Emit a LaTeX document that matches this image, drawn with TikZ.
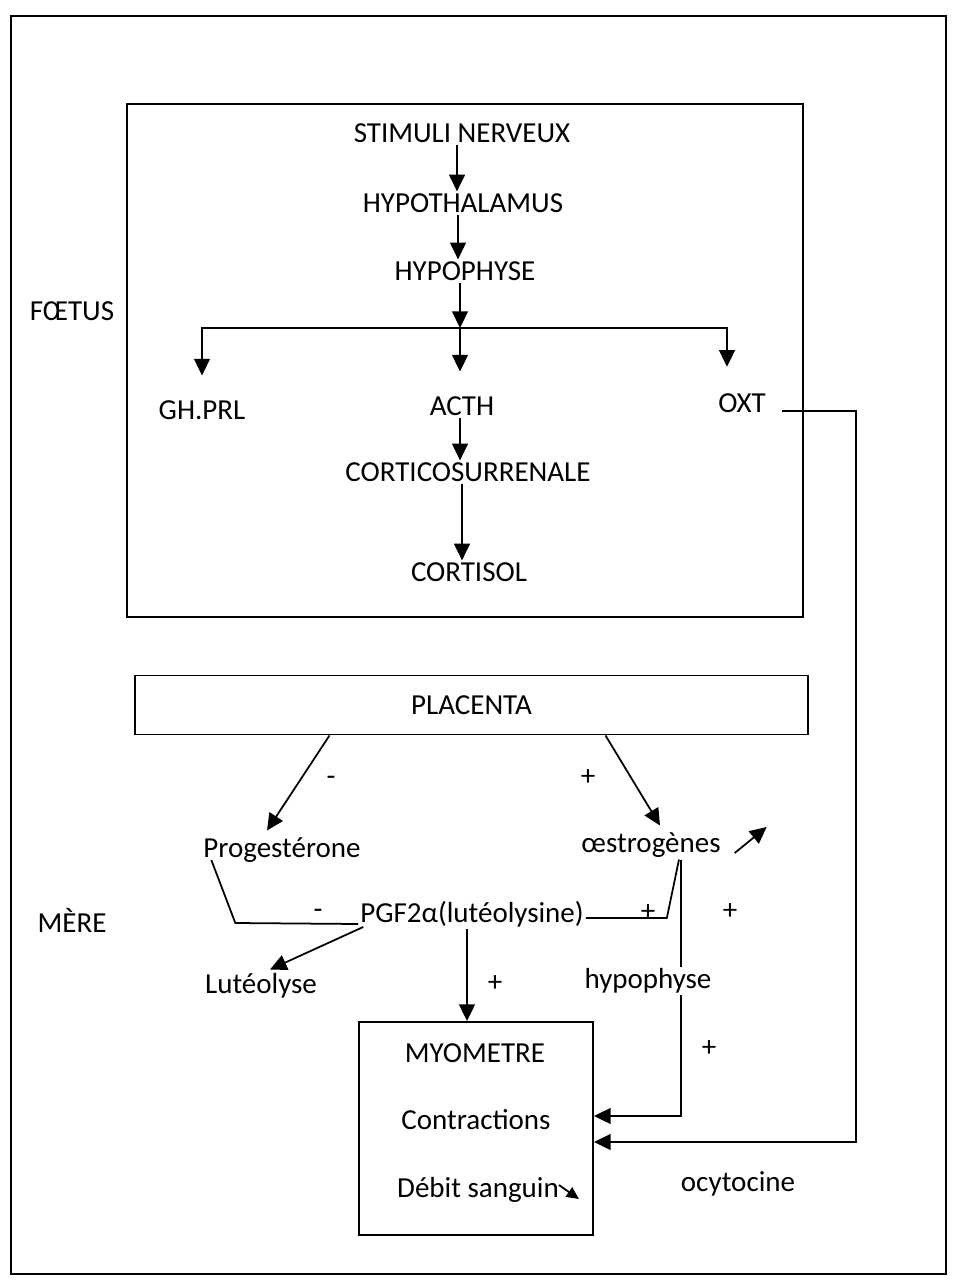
\documentclass[tikz,border=0pt]{standalone}
\usepackage{fontspec}
\setmainfont{Carlito}
\usetikzlibrary{arrows.meta,calc}

\begin{document}
\begin{tikzpicture}[
  x=0.02cm, y=-0.02cm,
  font=\fontsize{16.5}{19}\selectfont,
  lbl/.style={inner sep=1pt},
  sgn/.style={inner sep=0pt},
  frame/.style={draw=black, line width=1.1pt},
  boxed/.style={rectangle, draw=black, line width=1.1pt, inner sep=0pt},
  arr/.style={-{Triangle[length=9.5pt,width=9pt]}, line width=1pt},
  small arr/.style={-{Triangle[length=7pt,width=6.5pt]}, line width=1pt},
  link/.style={line width=1pt}
]
\useasboundingbox (0,0) rectangle (954,1283);
\draw[frame] (11,16) rectangle (946,1274);
\draw[frame] (127,104) rectangle (803,617);

\node[lbl] (foetus) at (72,311) {FŒTUS};
\node[lbl] (mere) at (72,920) {MÈRE};

\node[lbl] (stim) at (462,133) {STIMULI NERVEUX};
\node[lbl] (hypth) at (463,203) {HYPOTHALAMUS};
\node[lbl] (hyph) at (465,271) {HYPOPHYSE};
\node[lbl] (ghprl) at (202,410) {GH.PRL};
\node[lbl] (acth) at (462,406) {ACTH};
\node[lbl] (oxt) at (742,403) {OXT};
\node[lbl] (cortico) at (468,472) {CORTICOSURRENALE};
\node[lbl] (cortisol) at (469,572) {CORTISOL};
\coordinate (split) at (460,328);

\node[boxed, minimum width=13.46cm, minimum height=1.18cm] (placenta) at (471.5,705) {PLACENTA};
\node[lbl] (prog) at (282,850) {Progestérone};
\node[lbl] (oest) at (651,845) {œstrogènes};
\node[lbl] (pgf) at (472,914) {PGF2α(lutéolysine)};
\node[lbl] (luteo) at (261,986) {Lutéolyse};
\node[lbl] (ocyto) at (738,1184) {ocytocine};

\node[boxed, minimum width=4.68cm, minimum height=4.26cm] (myo) at (476,1128.5) {};
\node[lbl] (myot) at (475,1053) {MYOMETRE};
\node[lbl] (contr) at (476,1120) {Contractions};
\node[lbl] (debit) at (478,1190) {Débit sanguin};

\node[sgn] (m1) at (331,781) {-};
\node[sgn] (p1) at (588,778) {+};
\node[sgn] (m2) at (318,914) {-};
\node[sgn] (p2) at (648,913) {+};
\node[sgn] (p3) at (730,912) {+};
\node[sgn] (p4) at (495,984) {+};
\node[sgn] (p5) at (709,1049) {+};

\draw[arr] ($(stim.south)+(-5,0)$) -- ($(hypth.north)+(-6,0)$);
\draw[arr] ($(hypth.south)+(-5,0)$) -- ($(hyph.north)+(-7,0)$);
\draw[arr] ($(hyph.south)+(-5,0)$) -- (split);
\draw[arr, shorten >=13pt] (split) -| (ghprl.north);
\draw[arr, shorten >=13pt] (split) -- (acth.north -| split);
\draw[arr, shorten >=14pt] (split) -| ($(oxt.north)+(-15,0)$);
\draw[arr] ($(acth.south)+(-2,0)$) -- ($(cortico.north)+(-8,0)$);
\draw[arr] ($(cortico.south)+(-6,0)$) -- ($(cortisol.north)+(-7,0)$);
\draw[arr] ($(oxt.east)+(14,8)$) -- ++(74,0) |- ($(myo.east)+(0,13.5)$);

\draw[arr] ($(placenta.south)+(-142,0)$) -- ($(prog.north)+(-15,-5)$);
\draw[arr] ($(placenta.south)+(134,0)$) -- ($(oest.north)+(9,-5)$);
\draw[arr] ($(oest.east)+(12,8)$) -- ++(32,-26);
\draw[link] ($(prog.west)+(10,10)$) -- ++(24,63) -- ($(pgf.west)+(0,10)$);
\draw[link] ($(pgf.east)+(0,4)$) -- ++(81,0) -- ($(oest.south)+(28,0)$);
\draw[arr] ($(oest.south)+(30,0)$) |- ($(myo.east)+(0,-12.5)$);
\draw[arr] ($(pgf.west)+(5,13)$) -- ($(luteo.north)+(9,-2)$);
\draw[arr] ($(pgf.south)+(-5,0)$) -- ($(myo.north)+(-9,0)$);
\draw[small arr] ($(debit.east)+(-2,-5)$) -- ++(20,14);

\node[lbl, fill=white] (hyp2) at (648,981) {hypophyse};
\end{tikzpicture}
\end{document}
